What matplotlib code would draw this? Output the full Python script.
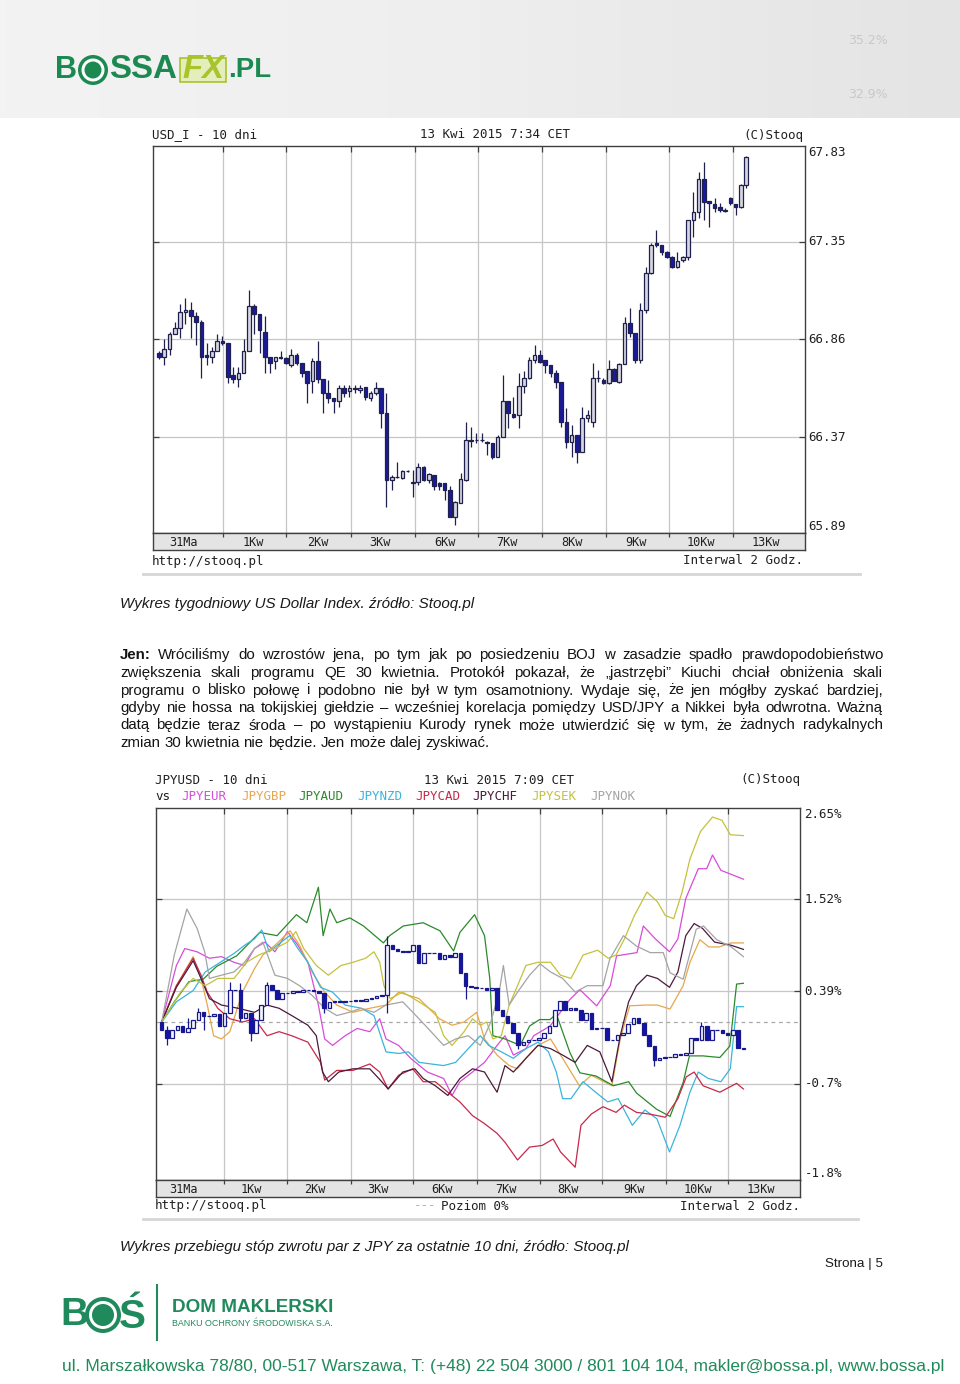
import numpy as np
import matplotlib
matplotlib.use('Agg')
import matplotlib.pyplot as plt
from matplotlib.patches import Rectangle, Circle
from matplotlib.colors import LinearSegmentedColormap
import matplotlib.transforms as mtransforms

# ---------------- chart 1 data: USD_I, 2h candles ----------------
usd_open = [66.79, 66.77, 66.81, 66.89, 66.92, 67.00, 67.01, 66.98, 66.95, 66.78, 66.77, 66.80, 66.85, 66.84,
            66.68, 66.66, 66.69, 66.80, 67.03, 66.99, 66.90, 66.77, 66.75, 66.765, 66.765, 66.73, 66.78, 66.74,
            66.70, 66.65, 66.75, 66.66, 66.59, 66.565, 66.55, 66.615, 66.60, 66.615, 66.606, 66.62, 66.565, 66.59,
            66.615, 66.49, 66.155, 66.170, 66.164, 66.202, 66.147, 66.147, 66.222, 66.155, 66.18, 66.142, 66.142,
            66.108, 65.971, 66.042, 66.155, 66.350, 66.356, 66.354, 66.347,
            66.34, 66.27, 66.37, 66.55, 66.486, 66.48, 66.627, 66.665, 66.757, 66.782, 66.757, 66.732, 66.69,
            66.649, 66.448, 66.348, 66.381, 66.298, 66.465, 66.448, 66.665, 66.657, 66.640, 66.710, 66.649, 66.737,
            66.944, 66.894, 66.757, 67.008, 67.192, 67.342, 67.334, 67.300, 67.275, 67.225, 67.258, 67.275, 67.459,
            67.501, 67.663, 67.554, 67.539, 67.526, 67.505, 67.568, 67.539, 67.522, 67.634]
usd_close = [66.77, 66.81, 66.89, 66.92, 67.00, 67.01, 66.98, 66.95, 66.77, 66.77, 66.80, 66.85, 66.84, 66.67,
             66.66, 66.69, 66.80, 67.03, 66.99, 66.91, 66.77, 66.74, 66.77, 66.77, 66.74, 66.78, 66.74, 66.69,
             66.64, 66.75, 66.66, 66.59, 66.565, 66.55, 66.615, 66.59, 66.615, 66.613, 66.615, 66.573, 66.593,
             66.615, 66.49, 66.155, 66.169, 66.173, 66.202, 66.200, 66.139, 66.222, 66.155, 66.185, 66.125, 66.125,
             66.105, 65.971, 66.047, 66.159, 66.356, 66.356, 66.354, 66.356, 66.339,
             66.27, 66.37, 66.55, 66.49, 66.473, 66.627, 66.665, 66.757, 66.782, 66.749, 66.732, 66.69, 66.649,
             66.448, 66.348, 66.381, 66.298, 66.465, 66.481, 66.665, 66.667, 66.640, 66.710, 66.654, 66.737, 66.944,
             66.894, 66.757, 67.008, 67.192, 67.334, 67.334, 67.300, 67.275, 67.225, 67.255, 67.272, 67.459, 67.501,
             67.663, 67.551, 67.542, 67.517, 67.509, 67.507, 67.542, 67.526, 67.634, 67.776]
usd_high = [66.80, 66.865, 66.90, 66.95, 67.04, 67.07, 67.05, 67.00, 66.96, 66.84, 66.82, 66.89, 66.88, 66.84,
            66.72, 66.72, 66.86, 67.11, 67.04, 66.99, 66.98, 66.77, 66.77, 66.80, 66.77, 66.81, 66.79, 66.74,
            66.70, 66.765, 66.85, 66.66, 66.657, 66.565, 66.63, 66.63, 66.63, 66.632, 66.632, 66.62, 66.60, 66.648,
            66.615, 66.59, 66.18, 66.247, 66.205, 66.205, 66.205, 66.242, 66.225, 66.19, 66.18, 66.147, 66.142,
            66.125, 66.05, 66.189, 66.448, 66.423, 66.389, 66.389, 66.35,
            66.34, 66.38, 66.68, 66.55, 66.573, 66.69, 66.70, 66.774, 66.832, 66.807, 66.757, 66.732, 66.707,
            66.649, 66.515, 66.431, 66.381, 66.523, 66.506, 66.740, 66.707, 66.665, 66.757, 66.715, 66.740, 66.974,
            67.016, 66.894, 67.041, 67.225, 67.342, 67.409, 67.334, 67.305, 67.28, 67.300, 67.28, 67.46, 67.601,
            67.701, 67.751, 67.554, 67.568, 67.542, 67.517, 67.576, 67.539, 67.64, 67.78]
usd_low = [66.76, 66.73, 66.78, 66.89, 66.87, 66.94, 66.87, 66.83, 66.665, 66.73, 66.74, 66.80, 66.83, 66.64,
           66.64, 66.62, 66.69, 66.80, 66.89, 66.79, 66.69, 66.69, 66.71, 66.76, 66.735, 66.72, 66.73, 66.67,
           66.54, 66.59, 66.64, 66.49, 66.54, 66.49, 66.52, 66.57, 66.57, 66.59, 66.593, 66.556, 66.553, 66.58,
           66.414, 66.022, 66.105, 66.164, 66.16, 66.198, 66.072, 66.13, 66.15, 66.14, 66.105, 66.105, 66.055,
           65.97, 65.93, 66.04, 66.15, 66.322, 66.339, 66.347, 66.281,
           66.26, 66.27, 66.37, 66.415, 66.465, 66.415, 66.59, 66.66, 66.74, 66.74, 66.69, 66.674, 66.615,
           66.423, 66.314, 66.273, 66.239, 66.298, 66.448, 66.423, 66.649, 66.635, 66.635, 66.650, 66.640, 66.737,
           66.874, 66.740, 66.740, 66.991, 67.19, 67.325, 67.284, 67.27, 67.22, 67.22, 67.250, 67.258, 67.375,
           67.467, 67.459, 67.426, 67.501, 67.501, 67.501, 67.534, 67.484, 67.52, 67.618]
usd_yticks = [67.83, 67.35, 66.86, 66.37, 65.89]
usd_ylabels = ['67.83', '67.35', '66.86', '66.37', '65.89']
day_labels = ['31Ma', '1Kw', '2Kw', '3Kw', '6Kw', '7Kw', '8Kw', '9Kw', '10Kw', '13Kw']

# ---------------- chart 2 data: JPY returns (%) ----------------
jpyusd_close = [-0.095, -0.20, -0.10, -0.05, -0.12, -0.07, 0.03, 0.13, 0.08, 0.08, 0.10, -0.05, 0.11, 0.40,
                0.40, 0.05, 0.11, -0.14, 0.03, 0.21, 0.46, 0.40, 0.29, 0.36, 0.36, 0.38, 0.37, 0.40, 0.40, 0.38,
                0.36, 0.17, 0.25, 0.26, 0.25, 0.26, 0.26, 0.27, 0.26, 0.28, 0.30, 0.32, 0.33, 0.96, 0.90, 0.88,
                0.87, 0.88, 0.95, 0.73, 0.86, 0.86, 0.85, 0.78, 0.83, 0.81, 0.85, 0.61, 0.44, 0.43, 0.42,
                0.42, 0.40, 0.42, 0.15, 0.07, -0.01, -0.14, -0.28, -0.25, -0.22, -0.22, -0.20, -0.14, -0.05, 0.15,
                0.26, 0.15, 0.17, 0.15, 0.03, 0.11, -0.09, -0.08, -0.07, -0.22, -0.22, -0.16, -0.14, -0.03, 0.05,
                -0.01, -0.16, -0.30, -0.47, -0.45, -0.43, -0.43, -0.40, -0.41, -0.38, -0.20, -0.22, -0.05, -0.22,
                -0.10, -0.10, -0.14, -0.16, -0.10, -0.32, -0.33]
jpyusd_open = [0.0] + jpyusd_close[:-1]
# visible wicks (candle index, high, low)
jpy_wick_idx = [1, 5, 7, 8, 13, 15, 17, 20, 31, 43, 58, 68, 94, 103]
jpy_wick_high = [-0.05, 0.05, 0.17, 0.13, 0.50, 0.48, 0.11, 0.50, 0.36, 1.06, 0.61, -0.14, -0.30, 0.00]
jpy_wick_low = [-0.28, -0.12, 0.03, -0.10, 0.11, 0.01, -0.24, 0.21, 0.11, 0.11, 0.28, -0.33, -0.55, -0.22]

pair_names = ['JPYEUR', 'JPYGBP', 'JPYAUD', 'JPYNZD', 'JPYCAD', 'JPYCHF', 'JPYSEK', 'JPYNOK']
pair_colors = ['#d94bd9', '#e8a64a', '#2a8a2a', '#3ab4dc', '#c8284a', '#4a1a3a', '#c4c23a', '#a4a4a4']

eur_x = [0, 2.8, 4.4, 6.75, 9.1, 11.4, 13.8, 15.8, 17.7, 19.7, 21.6, 24.0, 26.0, 27.9, 29.9, 31.1, 32.6, 35.0,
         37.3, 39.7, 41.6, 42.8, 45.2, 47.5, 50.7, 53.8, 55.4, 56.9, 59.3, 61.6, 64.0, 65.5, 67.1, 69.5, 71.0,
         74.1, 77.9, 79.8, 83.0, 85.6, 86.8, 90.7, 91.9, 94.2, 96.9, 98.5, 100.0, 102.4, 104.0, 105.1, 106.7, 111]
eur_y = [0, 0.70, 0.91, 0.87, 0.79, 0.81, 0.74, 0.70, 0.91, 0.99, 0.87, 1.12, 0.95, 0.74, 0.21, -0.21, -0.29,
         -0.17, -0.08, -0.12, 0.04, -0.21, -0.29, -0.45, -0.62, -0.70, -0.91, -0.74, -0.62, -0.50, -0.29, -0.17,
         -0.41, -0.33, -0.17, -0.05, 0.28, 0.40, 0.20, 0.45, 0.82, 0.86, 1.19, 1.03, 0.87, 1.03, 1.53, 1.90, 1.90,
         2.07, 1.88, 1.77]
gbp_x = [0, 2.8, 6.0, 7.5, 8.7, 9.9, 11.4, 13.0, 15.4, 17.7, 19.3, 21.6, 24.5, 26.3, 28.7, 31.1, 33.4, 36.5,
         39.7, 42.8, 45.2, 49.1, 53.0, 55.4, 57.7, 60.1, 61.6, 64.0, 66.3, 67.9, 69.5, 71.8, 74.2, 76.5, 78.1,
         79.7, 82.0, 84.4, 85.9, 87.5, 89.3, 92.2, 94.6, 97.0, 99.5, 100.8, 102.7, 104.4, 106.3, 108.7, 111]
gbp_y = [0, 0.45, 0.81, 0.54, 0.21, -0.17, -0.21, -0.12, 0.37, 0.66, 0.83, 0.95, 1.13, 0.95, 0.62, 0.37, 0.21,
         0.12, 0.17, 0.21, 0.37, 0.29, 0.04, -0.04, 0.0, 0.12, -0.21, -0.41, -0.54, -0.58, -0.45, -0.29, -0.21,
         -0.45, -0.62, -0.79, -0.66, -0.74, -0.79, -0.21, 0.20, 0.21, 0.21, 0.16, 0.45, 0.74, 1.02, 0.93, 0.93,
         0.98, 0.98]
aud_x = [0, 2.4, 5.2, 7.9, 10.5, 14.3, 18.7, 22.0, 25.7, 27.7, 29.9, 30.8, 32.1, 33.4, 35.9, 38.5, 42.3, 43.5,
         46.1, 49.9, 53.1, 55.7, 56.9, 59.7, 61.6, 62.6, 63.2, 65.5, 68.4, 70.2, 72.1, 74.1, 75.3, 77.9, 79.8,
         82.9, 86.2, 89.1, 90.6, 94.4, 97.0, 99.5, 100.7, 103.3, 106.5, 108.4, 109.7, 111]
aud_y = [0, 0.25, 0.50, 0.53, 0.69, 0.82, 1.11, 1.07, 1.33, 1.23, 1.67, 1.07, 1.40, 1.23, 1.29, 1.19, 0.98, 1.07,
         1.19, 1.23, 1.13, 0.88, 1.11, 1.33, 1.07, 0.54, -0.17, -0.21, -0.29, -0.05, 0.03, 0.03, 0.10, -0.38,
         -0.63, -0.67, -0.79, -0.74, -0.88, -1.08, -1.17, -0.75, -0.42, -0.42, -0.44, -0.30, 0.47, 0.48]
nzd_x = [0, 2.8, 6.0, 8.3, 10.7, 13.8, 15.8, 17.7, 19.1, 20.5, 22.4, 24.4, 26.0, 27.9, 30.3, 32.6, 35.0, 38.1,
         40.5, 42.8, 45.2, 47.1, 49.1, 51.4, 53.8, 56.1, 58.5, 60.8, 62.4, 64.8, 67.1, 69.5, 71.8, 73.8, 75.3,
         76.5, 78.1, 80.4, 82.8, 85.1, 87.1, 89.8, 92.2, 94.5, 96.9, 98.9, 100.8, 102.4, 104.3, 106.7, 108.5,
         109.7, 111]
nzd_y = [0, 0.25, 0.39, 0.62, 0.72, 0.85, 0.95, 1.03, 1.14, 0.87, 0.97, 1.07, 0.91, 0.74, 0.43, 0.37, 0.21, 0.17,
         0.08, -0.37, -0.39, -0.37, -0.50, -0.52, -0.54, -0.50, -0.33, -0.17, -0.29, -0.37, -0.45, -0.33, -0.25,
         -0.37, -0.62, -0.95, -0.95, -0.74, -0.87, -0.99, -0.95, -1.28, -1.09, -1.20, -1.61, -1.28, -0.87, -0.62,
         -0.70, -0.74, -0.58, 0.19, 0.19]
cad_x = [0, 2.8, 6.0, 7.5, 8.7, 10.7, 13.0, 15.4, 17.7, 20.1, 22.4, 24.8, 27.9, 30.3, 31.1, 33.4, 36.5, 39.7,
         41.6, 43.2, 45.2, 47.9, 49.9, 52.2, 54.6, 56.9, 59.3, 61.6, 64.0, 65.5, 67.9, 70.2, 72.6, 74.7, 76.1,
         78.9, 80.0, 82.0, 84.2, 86.7, 88.3, 90.6, 93.0, 96.1, 98.5, 100.1, 101.6, 103.3, 106.5, 109.7, 111]
cad_y = [0, 0.45, 0.79, 0.58, 0.37, 0.17, 0.04, 0.0, 0.04, -0.17, -0.12, -0.17, -0.25, -0.50, -0.72, -0.60,
         -0.60, -0.52, -0.62, -0.83, -0.66, -0.58, -0.74, -0.74, -0.87, -0.99, -1.16, -1.26, -1.38, -1.49, -1.71,
         -1.55, -1.53, -1.45, -1.61, -1.80, -1.28, -1.14, -1.05, -1.12, -1.03, -1.12, -1.14, -1.18, -0.95, -0.68,
         -0.62, -0.79, -0.87, -0.76, -0.83]
chf_x = [0, 2.8, 6.0, 7.5, 9.1, 11.4, 14.6, 17.7, 20.1, 22.4, 24.8, 27.9, 29.5, 30.7, 31.8, 33.8, 36.5, 39.7,
         42.0, 43.2, 46.0, 48.3, 49.9, 52.2, 54.6, 56.9, 59.3, 61.6, 63.2, 64.0, 65.5, 67.1, 69.5, 71.8, 74.2,
         76.5, 78.9, 81.2, 83.6, 85.9, 87.5, 89.1, 90.6, 92.6, 94.6, 96.9, 98.5, 100.0, 101.6, 103.2, 105.5,
         108.7, 111]
chf_y = [0, 0.43, 0.76, 0.54, 0.29, 0.21, 0.17, 0.12, 0.21, 0.17, 0.08, -0.04, -0.17, -0.62, -0.74, -0.62, -0.58,
         -0.58, -0.74, -0.83, -0.62, -0.58, -0.70, -0.79, -0.91, -0.70, -0.58, -0.62, -0.79, -0.87, -0.54, -0.62,
         -0.45, -0.29, -0.33, -0.41, -0.50, -0.29, -0.37, -0.74, -0.17, 0.25, 0.45, 0.58, 0.54, 0.43, 0.62, 1.07,
         1.22, 1.16, 0.99, 0.95, 0.90]
sek_x = [0, 3.6, 6.0, 8.3, 10.7, 13.8, 16.2, 18.5, 21.6, 24.0, 25.6, 27.1, 29.5, 31.8, 34.2, 36.5, 38.9, 40.5,
         41.6, 42.4, 43.6, 46.0, 49.1, 52.2, 53.8, 55.4, 57.7, 59.3, 60.8, 62.0, 63.2, 64.8, 66.3, 67.9, 69.5,
         71.8, 74.2, 76.1, 78.1, 80.4, 83.2, 85.2, 86.7, 88.3, 90.2, 92.6, 94.6, 96.1, 97.7, 99.3, 100.8, 102.8,
         105.1, 106.9, 108.5, 111]
sek_y = [0, 0.37, 0.54, 0.45, 0.54, 0.54, 0.74, 0.83, 0.91, 0.99, 1.12, 0.91, 0.70, 0.58, 0.70, 0.74, 0.79, 0.87,
         0.74, 0.45, 0.29, 0.37, 0.25, 0.12, -0.17, -0.29, -0.12, 0.04, -0.04, 0.0, -0.21, -0.17, 0.21, 0.45,
         0.70, 0.74, 0.74, 0.58, 0.54, 0.83, 0.89, 0.79, 0.83, 1.03, 1.32, 1.61, 1.49, 1.32, 1.28, 1.61, 2.02,
         2.36, 2.54, 2.50, 2.32, 2.31]
nok_x = [0, 2.4, 4.8, 6.75, 8.2, 9.1, 11.4, 13.8, 15.8, 17.7, 19.3, 21.6, 24.0, 26.3, 28.7, 31.1, 33.4, 35.8,
         38.1, 40.5, 42.8, 46.0, 49.1, 51.4, 53.8, 56.1, 58.5, 60.8, 62.8, 64.4, 65.2, 66.3, 67.9, 70.2, 72.2,
         74.2, 76.5, 78.9, 81.2, 84.2, 85.5, 88.1, 90.6, 93.2, 95.7, 97.0, 99.5, 102.0, 103.4, 105.9, 108.7, 111]
nok_y = [0, 0.83, 1.40, 1.16, 0.87, 0.54, 0.58, 0.62, 0.74, 0.91, 0.99, 0.58, 0.54, 0.45, 0.33, 0.17, 0.08, 0.12,
         0.17, 0.12, 0.21, 0.25, 0.04, -0.12, -0.29, -0.21, -0.17, -0.29, 0.0, 0.37, 0.70, 0.21, 0.37, 0.58, 0.72,
         0.62, 0.54, 0.37, 0.45, 0.45, 0.78, 1.07, 0.94, 0.86, 0.86, 0.61, 0.53, 1.15, 1.19, 1.02, 0.93, 0.81]
pair_x = [eur_x, gbp_x, aud_x, nzd_x, cad_x, chf_x, sek_x, nok_x]
pair_y = [eur_y, gbp_y, aud_y, nzd_y, cad_y, chf_y, sek_y, nok_y]

jpy_yticks = [2.652, 1.524, 0.384, -0.768, -1.958]
jpy_ylabels = ['2.65%', '1.52%', '0.39%', '-0.7%', '-1.8%']

# ---------------- text ----------------
caption1 = 'Wykres tygodniowy US Dollar Index. źródło: Stooq.pl'
caption2 = 'Wykres przebiegu stóp zwrotu par z JPY za ostatnie 10 dni, źródło: Stooq.pl'
paragraph = [
    'Jen: Wróciliśmy do wzrostów jena, po tym jak po posiedzeniu BOJ w zasadzie spadło prawdopodobieństwo',
    'zwiększenia skali programu QE 30 kwietnia. Protokół pokazał, że „jastrzębi” Kiuchi chciał obniżenia skali',
    'programu o blisko połowę i podobno nie był w tym osamotniony. Wydaje się, że jen mógłby zyskać bardziej,',
    'gdyby nie hossa na tokijskiej giełdzie – wcześniej korelacja pomiędzy USD/JPY a Nikkei była odwrotna. Ważną',
    'datą będzie teraz środa – po wystąpieniu Kurody rynek może utwierdzić się w tym, że żadnych radykalnych',
    'zmian 30 kwietnia nie będzie. Jen może dalej zyskiwać.',
]
address = 'ul. Marszałkowska 78/80, 00-517 Warszawa, T: (+48) 22 504 3000 / 801 104 104, makler@bossa.pl, www.bossa.pl'

# ---------------- figure ----------------
W, H = 960, 1384
fig = plt.figure(figsize=(9.6, 13.84), dpi=100)
fig.patch.set_facecolor('white')
bg = fig.add_axes([0, 0, 1, 1], zorder=0)
bg.set_xlim(0, W); bg.set_ylim(H, 0); bg.axis('off')
R = fig.canvas.get_renderer()

SANS = ['Liberation Sans Narrow', 'Liberation Sans', 'DejaVu Sans']
MONO = ['DejaVu Sans Mono']
GREEN = '#1c8a50'


def wid(t):
    return t.get_window_extent(renderer=R).width


def txt(x, y, s, size=10, **kw):
    kw.setdefault('va', 'center')
    return bg.text(x, y, s, fontsize=size, **kw)


def fit(x, y, s, w, **kw):
    t = txt(x, y, s, size=10, **kw)
    t.set_fontsize(10 * w / wid(t))
    return t


def add_px(x0, y0, x1, y1):
    return fig.add_axes([x0 / W, 1 - y1 / H, (x1 - x0) / W, (y1 - y0) / H], zorder=2)

# ---- header ----
hcmap = LinearSegmentedColormap.from_list('hdr', ['#f3f3f3', '#eeeeee', '#e4e4e4'])
grad = np.linspace(0, 1, 300)[None, :]
bg.imshow(grad, extent=[0, W, 118, 0], cmap=hcmap, vmin=0, vmax=1, aspect='auto', zorder=0)
bg.set_xlim(0, W); bg.set_ylim(H, 0)
txt(848, 40, '35.2%', size=9, color='#c8c8c8', ha='left')
txt(848, 95, '32.9%', size=9, color='#c8c8c8', ha='left')
fit(55, 70, 'B', 22, family=SANS, weight='bold', color=GREEN, ha='left')
bg.add_patch(Circle((93, 70), 15, facecolor=GREEN, edgecolor='none', zorder=3))
bg.add_patch(Circle((93, 70), 11.5, facecolor='white', edgecolor='none', zorder=3))
bg.add_patch(Circle((93, 70), 8.5, facecolor=GREEN, edgecolor='none', zorder=3))
fit(109, 70, 'SSA', 68, family=SANS, weight='bold', color=GREEN, ha='left')
bg.add_patch(Rectangle((180, 58), 46, 24, facecolor='#e4edbc', edgecolor='#a9c42a', lw=1.2, zorder=2))
fit(182, 70, 'FX', 42, family=SANS, weight='bold', style='italic', color='#a9c42a', ha='left', zorder=3)
fit(228, 70, '.PL', 43, family=SANS, weight='bold', color=GREEN, ha='left')

# ---- captions & paragraph ----
fit(120, 604, caption1, 355, family=SANS, style='italic', color='#1a1a1a', ha='left')
probe = txt(0, 0, paragraph[-1], size=10, family=SANS)
body_size = 10 * 370 / wid(probe)
probe.remove()
line_y = [655, 673, 690.5, 708, 725.5, 743]
for k, line in enumerate(paragraph):
    words = line.split(' ')
    objs = []
    for j, w in enumerate(words):
        o = txt(120, line_y[k], w, size=body_size, family=SANS, color='#141414', ha='left',
                weight='bold' if (k == 0 and j == 0) else 'normal')
        objs.append(o)
    ws = [wid(o) for o in objs]
    if k < len(paragraph) - 1:
        gap = (883 - 120 - sum(ws)) / (len(words) - 1)
    else:
        sp = txt(0, 0, 'a a', size=body_size, family=SANS)
        sp2 = txt(0, 0, 'aa', size=body_size, family=SANS)
        gap = wid(sp) - wid(sp2)
        sp.remove(); sp2.remove()
    x = 120
    for o, w in zip(objs, ws):
        o.set_x(x)
        x += w + gap
fit(120, 1247, caption2, 510, family=SANS, style='italic', color='#1a1a1a', ha='left')
fit(883, 1264, 'Strona | 5', 58, family=SANS, color='#1a1a1a', ha='right')

# ---- footer ----
FG = '#218a5c'
fit(60, 1315, 'B', 28, family=SANS, weight='bold', color=FG, ha='left')
bg.add_patch(Circle((103, 1315), 18, facecolor=FG, edgecolor='none', zorder=3))
bg.add_patch(Circle((103, 1315), 14, facecolor='white', edgecolor='none', zorder=3))
bg.add_patch(Circle((103, 1315), 11, facecolor=FG, edgecolor='none', zorder=3))
fit(119, 1317, 'Ś', 27, family=SANS, weight='bold', color=FG, ha='left')
bg.plot([157, 157], [1285, 1340], color=FG, lw=1.5)
fit(172, 1307, 'DOM MAKLERSKI', 161, family=SANS, weight='bold', color=FG, ha='left')
fit(172, 1323, 'BANKU OCHRONY ŚRODOWISKA S.A.', 161, family=SANS, color=FG, ha='left')
fit(62, 1366, address, 878, family=SANS, color=FG, ha='left')

# chart frame shadows
bg.plot([143, 860], [574, 574], color='#d6d6d6', lw=2)
bg.plot([143, 858], [1219, 1219], color='#d6d6d6', lw=2)


def bodies(ax, o, c, width, up_face, down_face, edge, lw):
    for i in range(len(o)):
        lo, hi = min(o[i], c[i]), max(o[i], c[i])
        face = up_face if c[i] >= o[i] else down_face
        ax.add_patch(Rectangle((i - width / 2, lo), width, hi - lo, facecolor=face,
                               edgecolor=edge, lw=lw, zorder=5))


def style_box(ax, grid_x, grid_y, xlim, ylim):
    ax.set_xlim(*xlim); ax.set_ylim(*ylim)
    for gx in grid_x:
        ax.axvline(gx, color='#c6c6c6', lw=0.9, zorder=0)
    for gy in grid_y:
        ax.axhline(gy, color='#c6c6c6', lw=0.9, zorder=0)
    ax.set_xticks(grid_x); ax.set_yticks(grid_y)
    ax.tick_params(direction='in', length=4, width=0.9, color='#404040', top=True, bottom=False,
                   left=True, right=True, labelbottom=False, labelleft=False)
    for s in ax.spines.values():
        s.set_color('#404040'); s.set_linewidth(1.0)


def strip(ax, grid_x, lab_x, xlim):
    ax.set_facecolor('#e4e4e4')
    ax.set_xlim(*xlim); ax.set_ylim(0, 1)
    ax.set_xticks(grid_x); ax.set_yticks([])
    ax.tick_params(axis='x', direction='in', length=3, width=0.9, color='#404040', top=True,
                   bottom=False, labelbottom=False)
    for s in ax.spines.values():
        s.set_color('#404040'); s.set_linewidth(1.0)
    for xx, lab in zip(lab_x, day_labels):
        ax.text(xx, 0.45, lab, ha='center', va='center', family=MONO, fontsize=8.6, color='#202020')

# ---------------- chart 1 ----------------
g1 = [12.1, 24.1, 36.3, 48.3, 60.3, 72.4, 84.4, 96.4, 108.5]
lab1 = [4.7, 17.8, 30.0, 41.8, 54.0, 65.8, 78.0, 90.2, 102.4, 114.6]
xl1 = (-1.13, 122.1)
ax1 = add_px(153, 146, 805, 533)
style_box(ax1, g1, usd_yticks[1:-1], xl1, (usd_yticks[-1], usd_yticks[0]))
ax1.vlines(np.arange(len(usd_open)), usd_low, usd_high, color='#20204c', lw=0.9, zorder=4)
bodies(ax1, usd_open, usd_close, 0.68, '#d6d6e2', '#1a1aa0', '#20204c', 0.9)
tr1 = mtransforms.blended_transform_factory(ax1.transAxes, ax1.transData)
for k, (v, s) in enumerate(zip(usd_yticks, usd_ylabels)):
    va = 'top' if k == 0 else ('bottom' if k == len(usd_yticks) - 1 else 'center')
    ax1.text(1.005, v, s, transform=tr1, ha='left', va=va, family=MONO, fontsize=9, color='#202020',
             clip_on=False)
ax1s = add_px(153, 533, 805, 550)
strip(ax1s, g1, lab1, xl1)
txt(152, 135, 'USD_I - 10 dni', size=9, family=MONO, ha='left', color='#202020')
txt(420, 135, '13 Kwi 2015 7:34 CET', size=9, family=MONO, ha='left', color='#202020')
txt(803, 135, '(C)Stooq', size=9, family=MONO, ha='right', color='#202020')
txt(152, 561, 'http://stooq.pl', size=9, family=MONO, ha='left', color='#202020')
txt(803, 561, 'Interwal 2 Godz.', size=9, family=MONO, ha='right', color='#202020')

# ---------------- chart 2 ----------------
g2 = [11.9, 23.9, 36.1, 48.0, 60.1, 72.2, 84.1, 96.2, 108.1]
lab2 = [4.2, 17.0, 29.3, 41.2, 53.5, 65.6, 77.5, 90.1, 102.3, 114.3]
xl2 = (-1.09, 121.8)
ax2 = add_px(156, 808, 800, 1180)
style_box(ax2, g2, jpy_yticks[1:-1], xl2, (jpy_yticks[-1], jpy_yticks[0]))
ax2.axhline(0, color='#a8a8a8', lw=0.9, ls=(0, (3, 3)), zorder=1)
for px_, py_, col in zip(pair_x, pair_y, pair_colors):
    ax2.plot(px_, py_, color=col, lw=0.9, zorder=2)
ax2.vlines(jpy_wick_idx, jpy_wick_low, jpy_wick_high, color='#18188a', lw=0.9, zorder=4)
bodies(ax2, jpyusd_open, jpyusd_close, 0.68, '#f4f4fa', '#1414a8', '#18188a', 0.9)
tr2 = mtransforms.blended_transform_factory(ax2.transAxes, ax2.transData)
for k, (v, s) in enumerate(zip(jpy_yticks, jpy_ylabels)):
    va = 'top' if k == 0 else ('bottom' if k == len(jpy_yticks) - 1 else 'center')
    ax2.text(1.007, v, s, transform=tr2, ha='left', va=va, family=MONO, fontsize=9, color='#202020',
             clip_on=False)
ax2s = add_px(156, 1180, 800, 1197)
strip(ax2s, g2, lab2, xl2)
txt(155, 780, 'JPYUSD - 10 dni', size=9, family=MONO, ha='left', color='#202020')
txt(424, 780, '13 Kwi 2015 7:09 CET', size=9, family=MONO, ha='left', color='#202020')
txt(800, 780, '(C)Stooq', size=9, family=MONO, ha='right', color='#202020')
txt(155, 797, 'vs', size=9, family=MONO, ha='left', color='#202020')
leg_x = [181, 241, 298, 357, 415, 472, 531, 590]
for lx, nm, col in zip(leg_x, pair_names, pair_colors):
    txt(lx, 797, nm, size=9, family=MONO, ha='left', color=col)
txt(155, 1206, 'http://stooq.pl', size=9, family=MONO, ha='left', color='#202020')
txt(414, 1206, '---', size=9, family=MONO, ha='left', color='#b0b0b0')
txt(441, 1206, 'Poziom 0%', size=9, family=MONO, ha='left', color='#202020')
txt(800, 1206, 'Interwal 2 Godz.', size=9, family=MONO, ha='right', color='#202020')

fig.savefig('out.png', dpi=100, facecolor='white')
